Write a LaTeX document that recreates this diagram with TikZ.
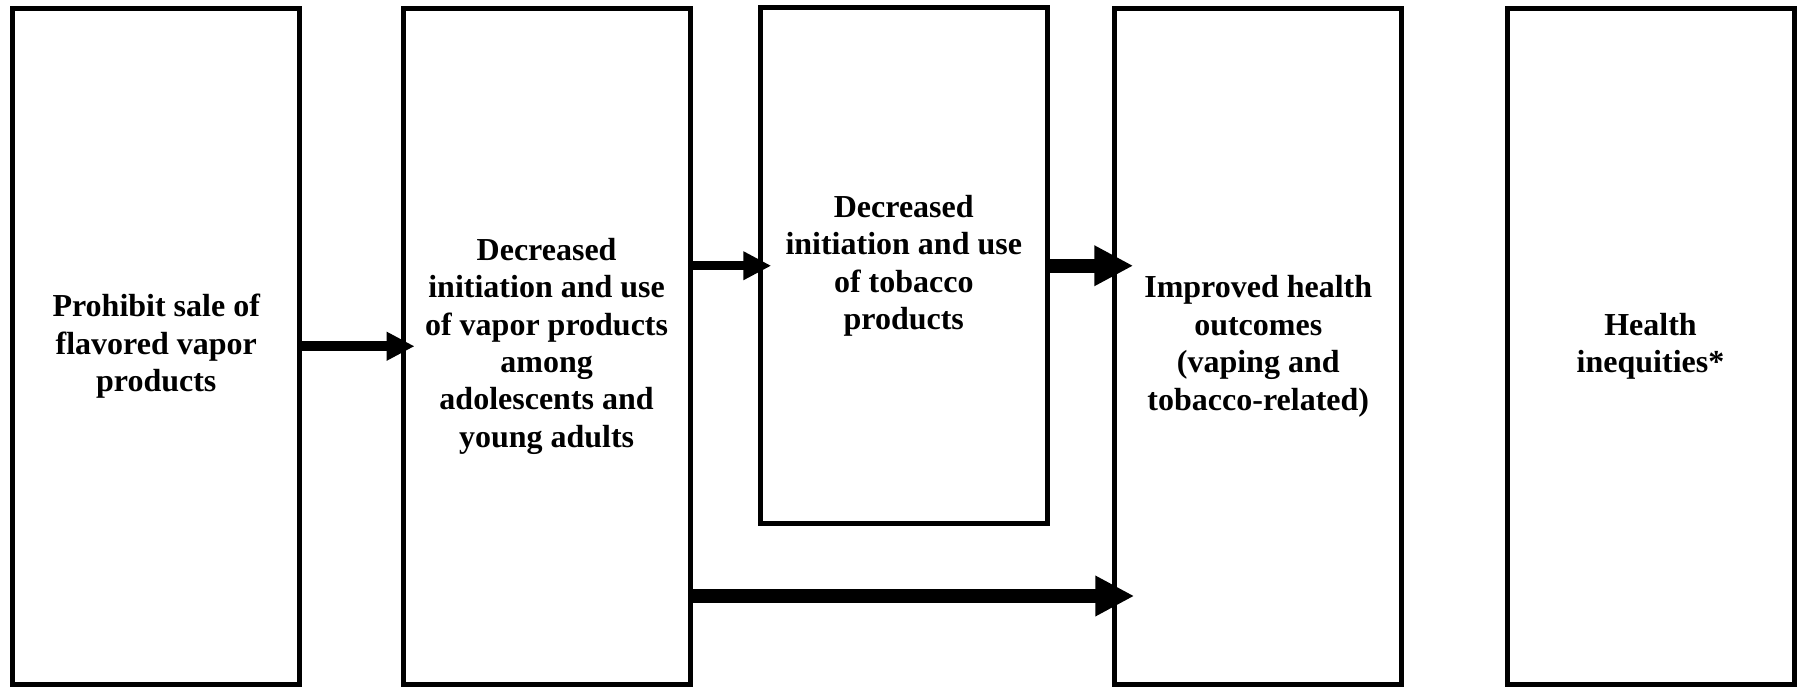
\documentclass[tikz,border=0pt]{standalone}
\usepackage{fontspec}
\setmainfont{Liberation Serif}
\usetikzlibrary{arrows.meta,calc}

\begin{document}
\begin{tikzpicture}[x=0.5pt,y=0.5pt,
    box/.style={draw=black,line width=2.5pt,minimum width=143.5pt,minimum height=337.75pt,
        inner sep=0pt,outer sep=0pt,align=center,font=\fontsize{16}{18.7}\selectfont\bfseries},
    small arrow/.style={line width=4.75pt,-{Triangle[length=14pt,width=13.5pt]}},
    big arrow/.style={line width=7pt,-{Triangle[length=19.5pt,width=19pt]}}]
    \useasboundingbox (0,0) rectangle (1797,-688);
    % stages
    \node [box] (prohibit) at (156.25,-346.25) {Prohibit sale of\\flavored vapor\\products};
    \node [box] (vapor) at (546.6,-346.25) {Decreased\\initiation and use\\of vapor products\\among\\adolescents and\\young adults};
    \node [box,minimum height=258.25pt] (tobacco) at (903.75,-265.75) {Decreased\\initiation and use\\of tobacco\\products};
    \node [box] (health) at (1258.25,-346.25) {Improved health\\outcomes\\(vaping and\\tobacco-related)};
    \node [box] (inequity) at (1650.5,-346.25) {Health\\inequities*};
    \coordinate (lowrow) at (700,-596);
    % links
    \draw [small arrow,shorten >=-5.75pt] (prohibit.east) -- (prohibit.east -| vapor.west);
    \draw [small arrow,shorten >=-5.5pt] (vapor.east |- tobacco.west) -- (tobacco.west);
    \draw [big arrow,shorten >=-9.25pt] (tobacco.east) -- (tobacco.east -| health.west);
    \draw [big arrow,shorten >=-9.75pt] (vapor.east |- lowrow) -- (health.west |- lowrow);
\end{tikzpicture}
\end{document}
